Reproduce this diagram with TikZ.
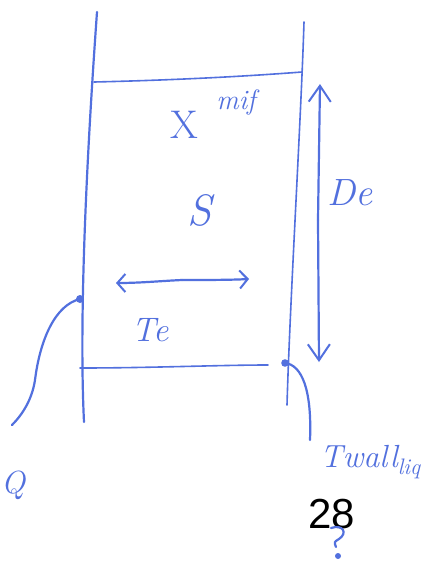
\documentclass[tikz,border=0pt]{standalone}
\usepackage{fontspec}
\setsansfont{Liberation Sans}
\usetikzlibrary{arrows.meta}
\definecolor{pen}{RGB}{82,112,222}
\tikzset{
  ink/.style={draw=pen, line width=2.2pt, line cap=round, line join=round},
  thin ink/.style={draw=pen, line width=1.6pt, line cap=round},
  hand/.style={text=pen, font=\itshape, inner sep=0pt},
  barb/.style={-{Straight Barb[length=8pt,width=18pt,line width=2pt]}},
  vbarb/.style={-{Straight Barb[length=16pt,width=22pt,line width=2pt]}},
}
\begin{document}
\begin{tikzpicture}[x=1pt,y=1pt]
\useasboundingbox (0,0) rectangle (424,-571);
\fill[white] (0,0) rectangle (424,-571);
% walls
\coordinate (lwTop) at (97,-12);
\coordinate (lwBot) at (84,-422);
\coordinate (rwTop) at (304,-22);
\coordinate (rwBot) at (287,-405);
\draw[ink] (lwTop) .. controls (90,-110) and (78,-300) .. (lwBot);
\draw[thin ink] (rwTop) .. controls (301,-120) and (290,-300) .. (rwBot);
% top and bottom lines
\coordinate (tL) at (94,-82);
\coordinate (tR) at (302,-72);
\coordinate (bL) at (80,-368);
\coordinate (bR) at (268,-365);
\draw[thin ink] (tL) .. controls (180,-80) and (250,-76) .. (tR);
\draw[thin ink] (bL) .. controls (150,-368) and (220,-365) .. (bR);
% horizontal double arrow
\coordinate (hA) at (116,-283);
\coordinate (hB) at (249,-279);
\draw[ink, barb] (182,-280) .. controls (160,-281) and (140,-283) .. (hA);
\draw[ink, barb] (182,-280) .. controls (205,-280) and (230,-280) .. (hB);
% vertical double arrow
\coordinate (vA) at (320,-84);
\coordinate (vB) at (319,-362);
\draw[ink, vbarb] (318,-220) -- (vA);
\draw[ink, vbarb] (318,-220) -- (vB);
% left probe
\coordinate (lp) at (80,-299);
\coordinate (lpEnd) at (12,-425);
\fill[pen] (lp) circle (4);
\draw[ink] (lp) .. controls (55,-305) and (40,-340) .. (35,-380) .. controls (32,-400) and (22,-415) .. (lpEnd);
% right probe
\coordinate (rp) at (285,-363);
\coordinate (rpEnd) at (310,-440);
\fill[pen] (rp) circle (3.8);
\draw[ink] (rp) .. controls (302,-365) and (312,-390) .. (rpEnd);
% labels
\node[hand, font=\fontsize{40}{40}\selectfont] (X) at (184,-125) {X};
\node[hand, font=\itshape\fontsize{28}{28}\selectfont] (mif) at (236,-102) {mif};
\node[hand, font=\itshape\fontsize{44}{44}\selectfont] (S) at (200,-210) {S};
\node[hand, font=\itshape\fontsize{38}{38}\selectfont] (De) at (350,-193) {De};
\node[hand, font=\itshape\fontsize{34}{34}\selectfont] (Te) at (150,-330) {Te};
\node[hand, font=\itshape\fontsize{32}{32}\selectfont, anchor=west] (Tw) at (320,-462) {Twall$_{\mathit{liq}}$};
\node[hand, font=\itshape\fontsize{32}{32}\selectfont, anchor=west] (Q) at (1,-485) {Q};
\node[font=\sffamily\fontsize{42}{42}\selectfont, text=black, inner sep=0pt] (n28) at (332,-514) {28};
% question mark
\draw[ink] (331,-528) .. controls (343,-524) and (348,-533) .. (339,-539) .. controls (334,-542) .. (336,-547);
\fill[pen] (338,-556) circle (3);
\end{tikzpicture}
\end{document}
